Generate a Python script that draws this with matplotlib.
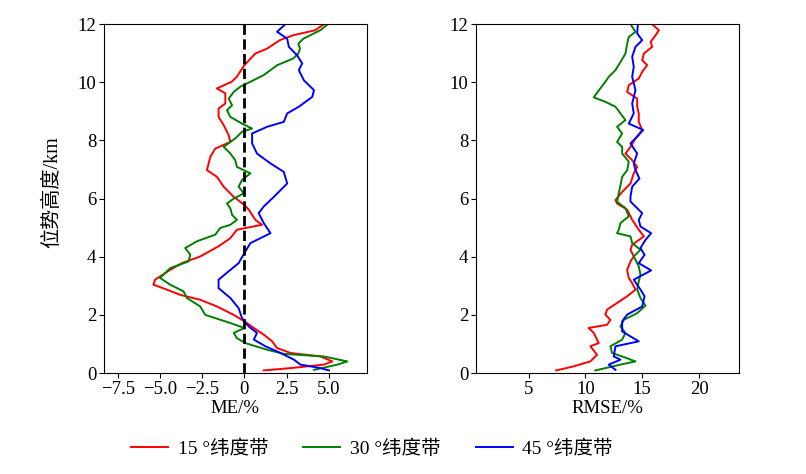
import numpy as np
import matplotlib
matplotlib.use('Agg')
import matplotlib.pyplot as plt

plt.rcParams['font.family'] = ['Liberation Serif', 'Noto Sans CJK SC']
plt.rcParams['font.size'] = 13.5
plt.rcParams['axes.unicode_minus'] = True

# ME profiles (height km, ME %)
me15_h = [12.0, 11.79, 11.62, 11.45, 11.16, 10.99, 10.59, 10.19, 10.02, 9.79, 9.62, 9.27, 9.1, 8.81,
          8.53, 8.18, 7.95, 7.72, 7.44, 7.21, 6.98, 6.75, 6.41, 6.06, 5.78, 5.62, 5.27, 5.1, 4.93,
          4.64, 4.36, 4.01, 3.78, 3.55, 3.21, 3.04, 2.87, 2.69, 2.52, 2.29, 2.0, 1.78, 1.55, 1.32,
          1.09, 0.86, 0.69, 0.57, 0.4, 0.29, 0.17, 0.09]
me15_v = [4.72, 4.2, 2.9, 2.1, 1.35, 0.65, 0.0, -0.45, -0.75, -1.63, -1.13, -1.13, -1.53, -1.53,
          -1.23, -0.93, -0.83, -1.73, -2.02, -2.12, -2.22, -1.63, -1.23, -0.63, 0.0, 0.26, 0.65, 1.05, -0.44,
          -0.83, -1.53, -2.62, -3.71, -4.4, -5.3, -5.4, -4.6, -3.81, -2.62, -1.63, -0.63, 0.0, 0.56, 1.15,
          1.65, 1.94, 2.74, 4.52, 5.22, 4.72, 2.74, 1.15]

me30_h = [12.0, 11.79, 11.5, 11.33, 11.16, 10.99, 10.82, 10.59, 10.25, 10.02, 9.85, 9.67, 9.44, 9.21,
          9.04, 8.81, 8.58, 8.41, 8.3, 8.07, 7.78, 7.55, 7.32, 7.09, 6.87, 6.64, 6.41, 6.18, 6.0, 5.83,
          5.66, 5.44, 5.27, 5.1, 4.99, 4.76, 4.53, 4.3, 4.07, 3.84, 3.61, 3.27, 3.04, 2.81, 2.58, 2.29,
          2.0, 1.72, 1.55, 1.38, 1.2, 1.03, 0.8, 0.66, 0.57, 0.4, 0.29, 0.11]
me30_v = [4.96, 4.5, 3.5, 3.2, 3.3, 3.2, 2.9, 1.95, 1.15, 0.36, -0.24, -0.63, -0.93, -0.73,
          -1.03, -0.83, -0.14, 0.46, -0.14, -0.54, -1.23, -0.83, -0.54, -0.44, 0.36, -0.14, -0.34, -0.04, -0.63, -1.03,
          -0.83, -0.73, -0.44, -0.83, -1.43, -1.73, -2.82, -3.51, -3.21, -3.31, -4.4, -5.0, -4.4, -3.61, -3.41, -2.62,
          -2.32, -0.83, 0.0, -0.63, -0.44, 0.06, 1.35, 2.34, 4.72, 6.11, 5.52, 4.13]

me45_h = [12.0, 11.74, 11.5, 11.22, 10.93, 10.65, 10.42, 10.07, 9.73, 9.5, 9.16, 8.93, 8.64, 8.47,
          8.24, 7.9, 7.55, 7.21, 6.92, 6.52, 6.06, 5.73, 5.5, 5.16, 4.81, 4.47, 4.13, 3.78, 3.5, 3.21,
          2.92, 2.58, 2.23, 1.89, 1.6, 1.38, 1.15, 0.92, 0.69, 0.46, 0.29, 0.17, 0.09]
me45_v = [2.44, 1.94, 2.54, 2.64, 3.13, 3.43, 3.23, 3.53, 4.13, 4.03, 3.23, 2.54, 2.34, 1.35,
          0.46, 0.46, 0.75, 1.55, 2.34, 2.54, 1.75, 1.15, 0.85, 1.15, 1.55, 0.36, 0.0, -0.34, -0.93, -1.53,
          -1.53, -0.83, -0.34, -0.14, 0.26, 0.75, 0.56, 1.25, 2.14, 2.94, 3.33, 4.52, 5.02]

# RMSE profiles (height km, RMSE %)
rm15_h = [12.0, 11.79, 11.62, 11.39, 11.22, 10.99, 10.76, 10.59, 10.36, 10.13, 9.9, 9.67, 9.44, 9.16,
          8.93, 8.64, 8.36, 8.07, 7.78, 7.55, 7.32, 7.09, 6.87, 6.52, 6.23, 5.95, 5.83, 5.62, 5.27, 4.93,
          4.7, 4.41, 4.24, 4.01, 3.84, 3.55, 3.27, 3.09, 2.87, 2.64, 2.41, 2.18, 2.01, 1.83, 1.66, 1.55,
          1.38, 1.03, 0.92, 0.63, 0.4, 0.23, 0.09]
rm15_v = [15.88, 16.47, 16.18, 15.74, 15.88, 15.15, 15.0, 15.44, 15.0, 14.7, 13.82, 13.68, 14.56, 14.56,
          14.7, 14.7, 15.0, 14.41, 13.97, 13.53, 14.12, 14.56, 14.26, 13.97, 13.24, 12.65, 12.79, 13.68, 14.12, 14.7,
          15.15, 14.12, 13.97, 14.26, 13.97, 13.68, 13.82, 14.12, 14.41, 13.68, 12.79, 11.91, 11.76, 12.21, 11.91, 10.29,
          10.74, 11.18, 10.44, 11.03, 10.44, 8.97, 7.44]

rm30_h = [12.0, 11.74, 11.56, 11.33, 10.99, 10.7, 10.42, 10.19, 10.02, 9.79, 9.56, 9.48, 9.33, 9.16,
          8.93, 8.7, 8.47, 8.24, 7.95, 7.78, 7.55, 7.27, 6.98, 6.75, 6.46, 6.18, 5.89, 5.67, 5.39, 5.16,
          4.93, 4.81, 4.7, 4.47, 4.24, 4.01, 3.67, 3.38, 3.15, 2.87, 2.58, 2.32, 2.06, 1.83, 1.6, 1.38,
          1.15, 0.92, 0.69, 0.57, 0.4, 0.29, 0.09]
rm30_v = [13.97, 14.41, 13.82, 13.68, 13.53, 13.09, 12.65, 12.06, 11.76, 11.32, 10.88, 10.74, 11.76, 12.65,
          13.09, 13.53, 12.79, 13.24, 12.79, 13.24, 13.24, 13.82, 13.68, 13.24, 13.09, 12.94, 12.79, 13.53, 13.82, 13.09,
          12.94, 12.79, 13.97, 14.12, 14.85, 14.26, 14.7, 14.85, 14.7, 14.56, 14.85, 15.29, 14.56, 13.38, 13.09, 13.53,
          13.24, 12.21, 12.35, 13.24, 14.41, 13.09, 10.88]

rm45_h = [12.0, 11.68, 11.45, 11.22, 10.88, 10.53, 10.19, 9.73, 9.27, 8.93, 8.58, 8.36, 8.13, 7.9,
          7.55, 7.21, 6.98, 6.69, 6.41, 6.06, 5.9, 5.5, 5.27, 5.04, 4.81, 4.58, 4.3, 4.07, 3.78, 3.53,
          3.21, 2.87, 2.64, 2.29, 2.01, 1.78, 1.43, 1.09, 0.92, 0.57, 0.46, 0.29, 0.11]
rm45_v = [14.62, 14.56, 15.0, 14.41, 14.12, 14.26, 14.12, 14.41, 14.12, 14.26, 13.82, 15.09, 14.56, 13.97,
          14.56, 14.26, 14.41, 14.76, 14.12, 13.97, 13.97, 15.0, 14.7, 14.85, 15.79, 15.29, 14.85, 15.21, 14.7, 15.79,
          14.26, 14.85, 15.21, 15.0, 13.68, 13.24, 13.24, 14.7, 12.65, 12.5, 13.09, 12.06, 12.65]

labels = ['15 °纬度带', '30 °纬度带', '45 °纬度带']
colors = ['red', 'green', 'blue']

fig = plt.figure(figsize=(8.06, 4.74), dpi=100)
ax1 = fig.add_axes([0.129, 0.213, 0.326, 0.736])
ax2 = fig.add_axes([0.5906, 0.213, 0.326, 0.736])

lines = []
for h, v, c, lab in zip([me15_h, me30_h, me45_h], [me15_v, me30_v, me45_v], colors, labels):
    ln, = ax1.plot(v, h, color=c, lw=1.4, label=lab)
    lines.append(ln)
ax1.axvline(0, color='black', ls='--', lw=2)

for h, v, c in zip([rm15_h, rm30_h, rm45_h], [rm15_v, rm30_v, rm45_v], colors):
    ax2.plot(v, h, color=c, lw=1.4)

ax1.set_xlim(-8.33, 7.26)
ax1.set_xticks([-7.5, -5.0, -2.5, 0, 2.5, 5.0])
ax1.set_xticklabels(['\u22127.5', '\u22125.0', '\u22122.5', '0', '2.5', '5.0'])
ax2.set_xlim(0.38, 23.5)
ax2.set_xticks([5, 10, 15, 20])

for ax in (ax1, ax2):
    ax.set_ylim(0, 12)
    ax.set_yticks([0, 2, 4, 6, 8, 10, 12])
    ax.tick_params(labelsize=13.5, pad=2)

ax1.set_xlabel('ME/%', fontsize=13.5, labelpad=2)
ax2.set_xlabel('RMSE/%', fontsize=13.5, labelpad=2)
ax1.set_ylabel('位势高度/km', fontsize=14.5)
ax1.yaxis.set_label_coords(-0.16, 0.52)

fig.legend(handles=lines, labels=labels, loc='center', ncol=3, frameon=False,
           bbox_to_anchor=(372 / 806, 1 - 449 / 474), fontsize=14, handlelength=1.9,
           handletextpad=0.5, columnspacing=1.8)

fig.savefig('out.png', dpi=100)
